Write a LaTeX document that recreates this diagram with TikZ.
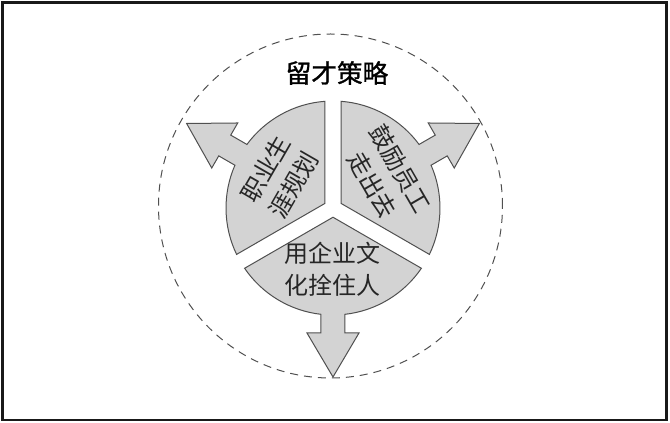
\documentclass[tikz,border=0pt]{standalone}
\usepackage{fontspec}
\newfontfamily\cjk{Noto Sans CJK SC}
\newfontfamily\cjkhead{Noto Sans CJK SC}[FakeBold=1.2]
\usetikzlibrary{positioning}
\definecolor{petalgray}{RGB}{211,211,211}
\definecolor{edgegray}{RGB}{80,80,80}
\tikzset{
  petal/.style={fill=petalgray, draw=edgegray, line width=0.5pt, line join=miter},
  petaltext/.style={font=\cjk\fontsize{12}{16}\selectfont, align=center, text=black!85},
}

\begin{document}
\begin{tikzpicture}[x=0.5pt, y=0.5pt]
            \useasboundingbox (-333,208) rectangle (337,-215);
            \draw[line width=1.25pt, black!90] (-330.5,205.5) rectangle (333.5,-212);
            \draw[dashed, dash pattern=on 4pt off 3pt, edgegray, line width=0.5pt] (-2.5,2) circle [radius=172];

            \foreach \ang in {30,150,270} {
              \begin{scope}[rotate=\ang]
                \path[petal] (9.24,0) -- (-55.71:107) arc[start angle=-55.71, end angle=-6.44, radius=107]
                  -- (125,-12) -- (125,-26) -- (169,0) -- (125,26) -- (125,12) -- (6.44:107)
                  arc[start angle=6.44, end angle=55.71, radius=107] -- cycle;
              \end{scope}
            }

            \node (title) at (4,135) [font=\cjkhead\fontsize{12.8}{15}\selectfont] {留才策略};
            \node (career) at (150:62) [petaltext, rotate=60] {职业生\\涯规划};
            \node (outward) at (30:62) [petaltext, rotate=-60] {鼓励员工\\走出去};
            \node (culture) at (270:61) [petaltext] {用企业文\\化拴住人};
        \end{tikzpicture}
\end{document}
